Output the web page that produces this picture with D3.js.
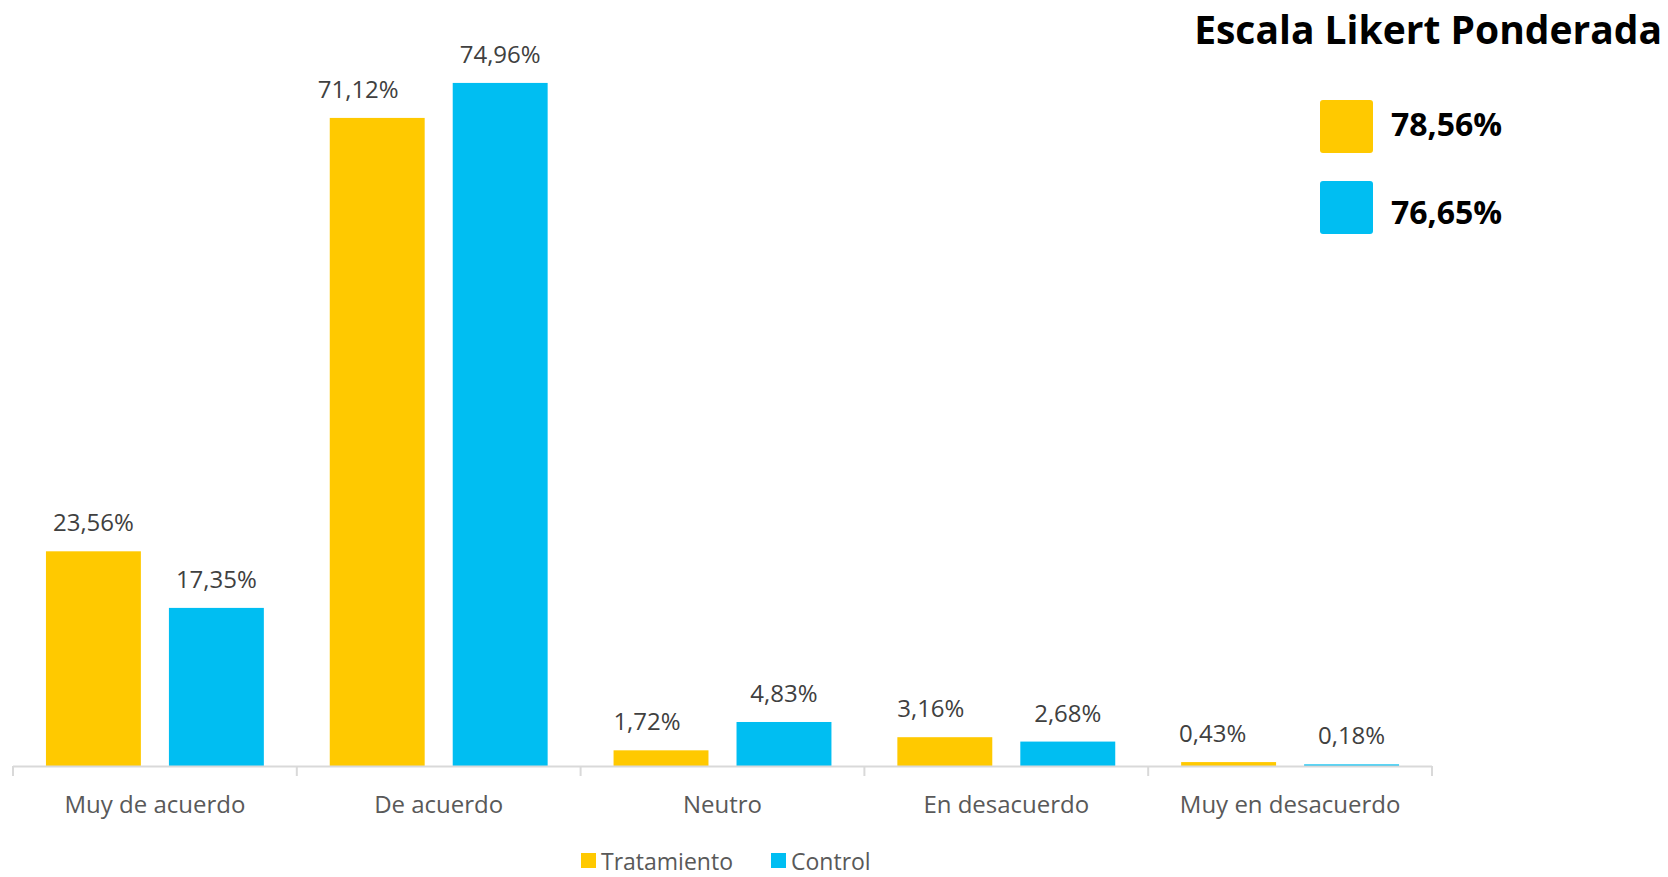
<!DOCTYPE html>
<html lang="es">
<head>
<meta charset="UTF-8">
<title>Escala Likert Ponderada</title>
<style>
  body { margin: 0; background: #fff; }
  svg { display: block; font-family: "Open Sans", sans-serif; }
</style>
</head>
<body>
<svg id="chart" width="1668" height="877"></svg>
<script src="https://d3js.org/d3.v7.min.js"></script>
<script>
// datos
const categories = ["Muy de acuerdo", "De acuerdo", "Neutro", "En desacuerdo", "Muy en desacuerdo"];
const seriesNames = ["Tratamiento", "Control"];
const tratamiento = [23.56, 71.12, 1.72, 3.16, 0.43];
const control = [17.35, 74.96, 4.83, 2.68, 0.18];
const ponderada = [78.56, 76.65];
const colors = ["#FFC900", "#00BEF2"];

// las etiquetas de Tratamiento estan movidas a mano en el original
const nudgeTrat = [0, -19, -14, -14, -16];

const fmt = v => v.toFixed(2).replace(".", ",") + "%";

const svg = d3.select("#chart");

const x0 = d3.scaleBand().domain(categories).range([13, 1432]);
const x1 = d3.scaleBand().domain(seriesNames).range([0, x0.bandwidth()])
    .paddingInner(0.228).paddingOuter(0.268);
const y = d3.scaleLinear().domain([0, 80]).range([766, 37]);

const rows = categories.map((c, i) => ({
  cat: c,
  vals: [
    { s: seriesNames[0], v: tratamiento[i], color: colors[0], dx: nudgeTrat[i] },
    { s: seriesNames[1], v: control[i], color: colors[1], dx: 0 }
  ]
}));

// barras
const groups = svg.append("g").selectAll("g")
  .data(rows)
  .join("g")
    .attr("transform", d => `translate(${x0(d.cat)},0)`);

groups.selectAll("rect")
  .data(d => d.vals)
  .join("rect")
    .attr("x", d => x1(d.s))
    .attr("y", d => y(d.v))
    .attr("width", x1.bandwidth())
    .attr("height", d => y(0) - y(d.v))
    .attr("fill", d => d.color);

groups.selectAll("text")
  .data(d => d.vals)
  .join("text")
    .attr("x", d => x1(d.s) + x1.bandwidth() / 2 + d.dx)
    .attr("y", d => y(d.v) - 20)
    .attr("text-anchor", "middle")
    .attr("font-size", 24)
    .attr("fill", "#404040")
    .text(d => fmt(d.v));

// eje x
const axisG = svg.append("g");
axisG.append("line")
  .attr("x1", x0.range()[0]).attr("x2", x0.range()[1])
  .attr("y1", y(0) + 0.5).attr("y2", y(0) + 0.5)
  .attr("stroke", "#d9d9d9").attr("stroke-width", 2);

const ticks = categories.map(c => x0(c)).concat([x0.range()[1]]);
axisG.selectAll("line.tick")
  .data(ticks)
  .join("line")
    .attr("class", "tick")
    .attr("x1", d => d).attr("x2", d => d)
    .attr("y1", y(0)).attr("y2", y(0) + 10)
    .attr("stroke", "#d9d9d9").attr("stroke-width", 2);

axisG.selectAll("text")
  .data(categories)
  .join("text")
    .attr("x", d => x0(d) + x0.bandwidth() / 2)
    .attr("y", 813)
    .attr("text-anchor", "middle")
    .attr("font-size", 24)
    .attr("fill", "#595959")
    .text(d => d);

// leyenda inferior
const legX = [581, 771];
const leg = svg.append("g").selectAll("g")
  .data(seriesNames)
  .join("g")
    .attr("transform", (d, i) => `translate(${legX[i]},853)`);
leg.append("rect").attr("width", 15).attr("height", 15)
  .attr("fill", (d, i) => colors[i]);
leg.append("text").attr("x", 20).attr("y", 17)
  .attr("font-size", 23).attr("fill", "#595959")
  .text(d => d);

// título y valores ponderados
svg.append("text")
  .attr("x", 1662).attr("y", 44)
  .attr("text-anchor", "end")
  .attr("font-size", 39).attr("font-weight", "bold")
  .attr("fill", "#000")
  .text("Escala Likert Ponderada");

const pond = svg.append("g").selectAll("g")
  .data(ponderada)
  .join("g");
pond.append("rect")
  .attr("x", 1320).attr("y", (d, i) => 100 + i * 81)
  .attr("width", 53).attr("height", 53).attr("rx", 3)
  .attr("fill", (d, i) => colors[i]);
pond.append("text")
  .attr("x", 1391).attr("y", (d, i) => 135.5 + i * 88)
  .attr("font-size", 32).attr("font-weight", "bold").attr("fill", "#000")
  .text(d => fmt(d));
</script>
</body>
</html>
